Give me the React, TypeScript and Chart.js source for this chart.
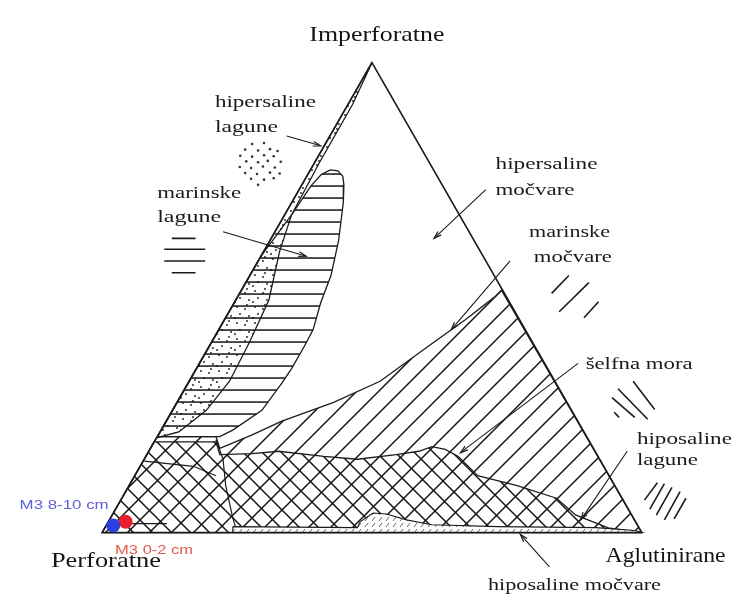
import React, { useEffect, useRef } from "react";
import { Chart, registerables } from "chart.js";

Chart.register(...registerables);

type P = [number, number];

// Ternary plane: Perforatne (0,0), Aglutinirane (100,0), Imperforatne (50,100)
const vertexNames = ["Perforatne", "Aglutinirane", "Imperforatne"];
const triangle: P[] = [[0, 0], [100, 0], [50, 100], [0, 0]];

// Samples (ternary %)
const sampleNames = ["M3 0-2 cm", "M3 8-10 cm"];
const samplePerforatne = [94.5, 97.2];
const sampleAglutinirane = [3.2, 1.3];
const sampleImperforatne = [2.3, 1.5];
const sampleColors = ["#e8202e", "#2b3fe0"];

// Environment fields (ternary plane coordinates)
const hipersalineLagune: P[] = [
  [50, 100], [46.4, 91.1], [40.2, 78.6], [35.1, 67.6], [32.9, 59.9], [30.9, 49.5],
  [27.3, 40.5], [23.6, 32.2], [19.3, 26.0], [14.2, 21.4], [10.2, 20.2], [50, 100],
];
const marinskeLagune: P[] = [
  [42.3, 77.2], [43.7, 77.0], [44.6, 75.8], [44.8, 74.0], [44.7, 70.3], [43.8, 62.0],
  [42.4, 54.7], [40.5, 48.9], [39.1, 43.2], [37.5, 39.7], [35.1, 34.9], [33.3, 31.8],
  [29.6, 26.0], [24.2, 21.8], [21.8, 20.4], [10.2, 20.4], [29.4, 58.8], [35.1, 67.6],
  [38.7, 73.8], [40.6, 76.2], [42.3, 77.2],
];
const marinskeMocvare: P[] = [
  [10.2, 20.4], [21.1, 20.4], [21.8, 17.9], [27.8, 20.8], [33.3, 23.7], [42.9, 27.7],
  [51.5, 32.2], [60.5, 39.7], [67.3, 45.3], [72.7, 50.1], [74.0, 51.6], [100, 0],
  [0, 0], [10.2, 20.4],
];
const selfnaMora: P[] = [
  [9.6, 19.3], [21.1, 19.3], [21.8, 16.6], [27.8, 16.8], [32.7, 17.3], [41.1, 16.2],
  [47.3, 15.6], [54.5, 16.6], [58.7, 17.3], [61.1, 18.3], [63.6, 17.7], [66.0, 16.2],
  [69.6, 12.1], [76.9, 10.0], [84.2, 7.3], [87.8, 3.7], [93.8, 1.0], [100, 0],
  [0, 0], [9.6, 19.3],
];
const hiposalineMocvare: P[] = [
  [24.2, 1.25], [47.3, 1.04], [47.8, 2.29], [50.2, 4.16], [52.7, 3.95], [56.4, 2.7],
  [61.1, 1.66], [73.3, 1.25], [91.5, 1.04], [98.7, 0.42], [100, 0], [24.2, 0], [24.2, 1.25],
];
const extraBoundaries: P[][] = [
  [[21.1, 19.75], [22.4, 15.6], [22.9, 10.0], [24.2, 3.1], [24.7, 1.25]],
  [[7.8, 15.2], [16.9, 14.1], [21.1, 12.1]],
  [[3.6, 1.9], [12.0, 1.9]],
];

// Label arrows: [from, to]
const arrows: P[][] = [
  [[34.2, 84.4], [40.5, 82.3]],
  [[22.4, 64.0], [37.8, 58.8]],
  [[71.1, 73.0], [61.5, 62.6]],
  [[75.6, 57.8], [64.7, 43.2]],
  [[88.2, 36.0], [66.4, 17.0]],
  [[97.3, 17.3], [88.7, 2.7]],
  [[82.9, -7.3], [77.5, -0.4]],
];

// Legend symbols
const legendDots: P[] = [
  [27.8, 82.7], [30.0, 82.9], [26.5, 81.5], [28.9, 81.3], [31.1, 81.6], [32.5, 81.2],
  [25.6, 80.2], [27.8, 80.0], [30.0, 80.3], [31.8, 80.1], [26.7, 79.0], [28.9, 78.8],
  [30.7, 79.1], [33.1, 78.9], [25.5, 77.8], [27.6, 77.6], [29.8, 77.9], [32.0, 77.7],
  [26.5, 76.5], [28.7, 76.3], [31.1, 76.6], [32.9, 76.4], [27.6, 75.3], [30.0, 75.1],
  [31.8, 75.4], [28.9, 74.0],
];
const legendStrokes: P[][] = [
  [[12.9, 62.6], [17.3, 62.6]], [[11.5, 60.3], [19.1, 60.3]],
  [[11.5, 57.8], [19.1, 57.8]], [[12.9, 55.3], [17.3, 55.3]],
  [[83.3, 50.9], [86.5, 54.7]], [[84.7, 47.0], [90.2, 53.2]], [[89.3, 45.7], [92.0, 49.1]],
  [[98.4, 32.2], [102.4, 26.2]], [[95.6, 30.6], [101.1, 24.1]],
  [[94.5, 28.7], [98.7, 24.5]], [[94.9, 25.6], [95.8, 24.5]],
  [[100.5, 6.9], [102.9, 10.6]], [[101.5, 5.0], [104.2, 10.4]], [[102.7, 3.7], [105.6, 9.6]],
  [[104.2, 2.7], [107.1, 8.7]], [[106.0, 2.9], [108.2, 7.3]],
];

// Text layout (plot coordinates: left x, baseline y)
const serif = "'Liberation Serif', 'Times New Roman', serif";
const sans = "'Liberation Sans', Arial, sans-serif";
const textLayout = [
  { text: vertexNames[2], x: 38.4, y: 104.6, size: 22, w: 135, color: "#151515", font: serif },
  { text: vertexNames[0], x: -9.5, y: -7.3, size: 22, w: 110, color: "#151515", font: serif },
  { text: vertexNames[1], x: 93.3, y: -6.2, size: 22, w: 120, color: "#151515", font: serif },
  { text: "hipersaline", x: 20.9, y: 90.6, size: 17, w: 101, color: "#1a1a1a", font: serif },
  { text: "lagune", x: 20.9, y: 85.2, size: 17, w: 63, color: "#1a1a1a", font: serif },
  { text: "marinske", x: 10.2, y: 71.1, size: 17, w: 84, color: "#1a1a1a", font: serif },
  { text: "lagune", x: 10.2, y: 66.1, size: 17, w: 64, color: "#1a1a1a", font: serif },
  { text: "hipersaline", x: 72.9, y: 77.3, size: 17, w: 102, color: "#1a1a1a", font: serif },
  { text: "močvare", x: 72.9, y: 71.9, size: 17, w: 79, color: "#1a1a1a", font: serif },
  { text: "marinske", x: 79.1, y: 63.0, size: 17, w: 81, color: "#1a1a1a", font: serif },
  { text: "močvare", x: 80.0, y: 57.6, size: 17, w: 78, color: "#1a1a1a", font: serif },
  { text: "šelfna mora", x: 89.6, y: 34.7, size: 17, w: 107, color: "#1a1a1a", font: serif },
  { text: "hiposaline", x: 99.1, y: 18.9, size: 17, w: 95, color: "#1a1a1a", font: serif },
  { text: "lagune", x: 99.1, y: 14.3, size: 17, w: 61, color: "#1a1a1a", font: serif },
  { text: "hiposaline močvare", x: 71.5, y: -12.3, size: 17, w: 173, color: "#1a1a1a", font: serif },
  { text: sampleNames[1], x: -15.3, y: 5.0, size: 13, w: 89, color: "#6060dc", font: sans },
  { text: sampleNames[0], x: 2.4, y: -4.6, size: 13, w: 78, color: "#e45a4a", font: sans },
];

const toPts = (a: P[]) => a.map(([x, y]) => ({ x, y }));
const segs = (list: P[][]) => {
  const out: { x: number; y: number }[] = [];
  list.forEach((s, i) => {
    if (i > 0) out.push({ x: NaN, y: NaN });
    s.forEach(([x, y]) => out.push({ x, y }));
  });
  return out;
};

function makePattern(kind: string): CanvasPattern | string {
  const c = document.createElement("canvas");
  let w = 12, h = 12;
  if (kind === "slash") { w = 22; h = 22; }
  if (kind === "backslash") { w = 19; h = 19; }
  if (kind === "dots") { w = 18; h = 16; }
  if (kind === "strip") { w = 7; h = 6; }
  c.width = w; c.height = h;
  const g = c.getContext("2d");
  if (!g) return "transparent";
  g.strokeStyle = "#161616";
  g.fillStyle = "#161616";
  g.lineWidth = 1.5;
  g.beginPath();
  if (kind === "horizontal") {
    g.fillRect(0, 5.3, w, 1.5);
  } else if (kind === "slash") {
    g.moveTo(-2, h + 2); g.lineTo(w + 2, -2);
    g.moveTo(-2, 2); g.lineTo(2, -2);
    g.moveTo(w - 2, h + 2); g.lineTo(w + 2, h - 2);
    g.stroke();
  } else if (kind === "backslash") {
    g.moveTo(-2, -2); g.lineTo(w + 2, h + 2);
    g.moveTo(w - 2, -2); g.lineTo(w + 2, 2);
    g.moveTo(-2, h - 2); g.lineTo(2, h + 2);
    g.stroke();
  } else if (kind === "dots") {
    const d = [[3, 3], [11, 5], [6, 10], [15, 12], [1, 14], [13, 1]];
    d.forEach(([x, y]) => { g.moveTo(x + 0.9, y); g.arc(x, y, 0.9, 0, Math.PI * 2); });
    g.fill();
  } else if (kind === "strip") {
    g.fillStyle = "#ffffff";
    g.fillRect(0, 0, w, h);
    g.strokeStyle = "#555";
    g.lineWidth = 0.9;
    g.moveTo(1, 5); g.lineTo(4, 1);
    g.stroke();
  }
  return g.createPattern(c, "repeat") || "transparent";
}

const textPlugin = {
  id: "ternaryText",
  afterDatasetsDraw(chart: any) {
    const ctx: CanvasRenderingContext2D = chart.ctx;
    const xs = chart.scales.x, ys = chart.scales.y;
    ctx.save();
    // arrow heads
    ctx.strokeStyle = "#1c1c1c";
    ctx.lineWidth = 1.2;
    arrows.forEach(([a, b]) => {
      const x0 = xs.getPixelForValue(a[0]), y0 = ys.getPixelForValue(a[1]);
      const x1 = xs.getPixelForValue(b[0]), y1 = ys.getPixelForValue(b[1]);
      const ang = Math.atan2(y1 - y0, x1 - x0);
      ctx.beginPath();
      ctx.moveTo(x1 - 8 * Math.cos(ang - 0.3), y1 - 8 * Math.sin(ang - 0.3));
      ctx.lineTo(x1, y1);
      ctx.lineTo(x1 - 8 * Math.cos(ang + 0.3), y1 - 8 * Math.sin(ang + 0.3));
      ctx.stroke();
    });
    // labels
    ctx.textBaseline = "alphabetic";
    ctx.textAlign = "left";
    textLayout.forEach((t) => {
      ctx.font = `${t.size}px ${t.font}`;
      ctx.fillStyle = t.color;
      const nat = ctx.measureText(t.text).width || 1;
      const px = xs.getPixelForValue(t.x), py = ys.getPixelForValue(t.y);
      ctx.save();
      ctx.translate(px, py);
      ctx.scale(t.w / nat, 1);
      ctx.fillText(t.text, 0, 0);
      ctx.restore();
    });
    ctx.restore();
  },
};

export default function App() {
  const ref = useRef<HTMLCanvasElement | null>(null);
  useEffect(() => {
    document.body.style.margin = "0";
    if (!ref.current) return;
    const samplePoints = samplePerforatne.map((_, i) => ({
      x: sampleAglutinirane[i] + sampleImperforatne[i] / 2,
      y: sampleImperforatne[i],
    }));
    const region = (data: P[], pattern: string, width = 1.2) => ({
      data: toPts(data),
      borderColor: "#1c1c1c",
      borderWidth: width,
      backgroundColor: makePattern(pattern),
      fill: "shape",
      pointRadius: 0,
      clip: false,
    });
    const lines = (data: { x: number; y: number }[], width: number) => ({
      data,
      borderColor: "#1c1c1c",
      borderWidth: width,
      fill: false,
      pointRadius: 0,
      spanGaps: false,
      clip: false,
    });
    const chart = new Chart(ref.current, {
      type: "line",
      data: {
        datasets: [
          {
            data: samplePoints,
            showLine: false,
            pointRadius: 7,
            pointBackgroundColor: sampleColors,
            pointBorderColor: sampleColors,
            pointBorderWidth: 0,
            clip: false,
          } as any,
          lines(segs(arrows), 1.1),
          lines(segs(legendStrokes), 1.6),
          {
            data: toPts(legendDots),
            showLine: false,
            pointRadius: 1.3,
            pointBackgroundColor: "#333",
            pointBorderWidth: 0,
            clip: false,
          } as any,
          lines(segs(extraBoundaries), 1.2),
          lines(toPts(triangle), 1.6),
          region(hiposalineMocvare, "strip", 1.1),
          region(hipersalineLagune, "dots", 1.3),
          region(marinskeLagune, "horizontal", 1.3),
          region(selfnaMora, "backslash", 1.3),
          region(marinskeMocvare, "slash", 1.3),
        ] as any,
      },
      options: {
        animation: false,
        responsive: false,
        maintainAspectRatio: false,
        devicePixelRatio: 1,
        events: [],
        layout: { padding: 0 },
        elements: { line: { tension: 0 } },
        plugins: { legend: { display: false }, tooltip: { enabled: false } },
        scales: {
          x: { type: "linear", display: false, min: -17.636, max: 116.727 },
          y: { type: "linear", display: false, min: -13.72, max: 111.85 },
        },
      } as any,
      plugins: [textPlugin as any],
    });
    return () => chart.destroy();
  }, []);
  return (
    <div style={{ width: 739, height: 604, background: "#fff" }}>
      <canvas ref={ref} width={739} height={604} style={{ display: "block" }} />
    </div>
  );
}
